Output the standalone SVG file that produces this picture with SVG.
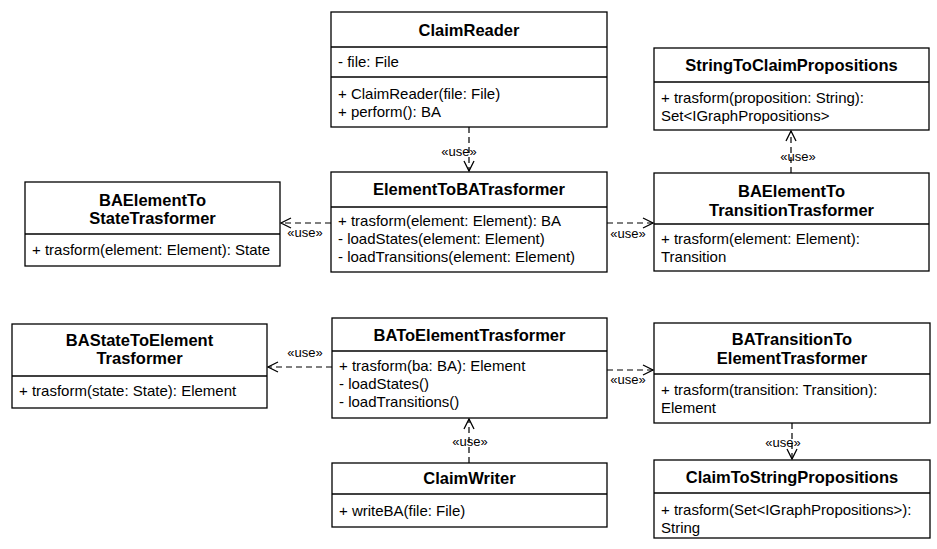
<svg xmlns="http://www.w3.org/2000/svg" width="937" height="549" viewBox="0 0 937 549">
<defs>
<style>
.box{fill:#fff;stroke:#000;stroke-width:1.3}
.div{stroke:#000;stroke-width:1.3}
.t{font-family:"Liberation Sans",Arial,sans-serif;font-size:16.5px;font-weight:bold;text-anchor:middle;fill:#000}
.m{font-family:"Liberation Sans",Arial,sans-serif;font-size:15px;fill:#000}
.u{font-family:"Liberation Sans",Arial,sans-serif;font-size:13px;text-anchor:middle;fill:#000}
.c{stroke:#000;stroke-width:1.2;stroke-dasharray:6,4;fill:none}
</style>
<marker id="open" markerUnits="userSpaceOnUse" markerWidth="14" markerHeight="14" viewBox="0 0 14 14" refX="12" refY="7" orient="auto">
<path d="M2,2 L12,7 L2,12" fill="none" stroke="#000" stroke-width="1.3"/>
</marker>
</defs>
<rect width="937" height="549" fill="#fff"/>

<g id="connectors">
<line class="c" x1="469" y1="127" x2="469" y2="171" marker-end="url(#open)"/>
<text class="u" x="459" y="156">«use»</text>
<line class="c" x1="331" y1="223" x2="281" y2="223" marker-end="url(#open)"/>
<text class="u" x="305" y="237">«use»</text>
<line class="c" x1="607" y1="223" x2="653" y2="223" marker-end="url(#open)"/>
<text class="u" x="628" y="238">«use»</text>
<line class="c" x1="791" y1="173" x2="791" y2="131" marker-end="url(#open)"/>
<text class="u" x="798" y="161">«use»</text>
<line class="c" x1="332" y1="367" x2="268" y2="367" marker-end="url(#open)"/>
<text class="u" x="305" y="357">«use»</text>
<line class="c" x1="607" y1="370" x2="653" y2="370" marker-end="url(#open)"/>
<text class="u" x="628" y="384">«use»</text>
<line class="c" x1="469" y1="463" x2="469" y2="419" marker-end="url(#open)"/>
<text class="u" x="470" y="446">«use»</text>
<line class="c" x1="792" y1="423" x2="792" y2="459" marker-end="url(#open)"/>
<text class="u" x="783" y="447">«use»</text>
</g>

<g id="ClaimReader">
<rect class="box" x="331" y="12" width="276" height="115"/>
<line class="div" x1="331" y1="47" x2="607" y2="47"/>
<line class="div" x1="331" y1="77" x2="607" y2="77"/>
<text class="t" x="469" y="36">ClaimReader</text>
<text class="m" x="338" y="67">- file: File</text>
<text class="m" x="338" y="99">+ ClaimReader(file: File)</text>
<text class="m" x="338" y="117">+ perform(): BA</text>
</g>

<g id="ElementToBATrasformer">
<rect class="box" x="331" y="172" width="276" height="100"/>
<line class="div" x1="331" y1="207" x2="607" y2="207"/>
<text class="t" x="469" y="195">ElementToBATrasformer</text>
<text class="m" x="338" y="226">+ trasform(element: Element): BA</text>
<text class="m" x="338" y="244">- loadStates(element: Element)</text>
<text class="m" x="338" y="262">- loadTransitions(element: Element)</text>
</g>

<g id="BAElementToStateTrasformer">
<rect class="box" x="25" y="182" width="255" height="84"/>
<line class="div" x1="25" y1="234" x2="280" y2="234"/>
<text class="t" x="152.5" y="206">BAElementTo</text>
<text class="t" x="152.5" y="224">StateTrasformer</text>
<text class="m" x="32" y="255">+ trasform(element: Element): State</text>
</g>

<g id="StringToClaimPropositions">
<rect class="box" x="654" y="48" width="275" height="82"/>
<line class="div" x1="654" y1="82" x2="929" y2="82"/>
<text class="t" x="791.5" y="71">StringToClaimPropositions</text>
<text class="m" x="661" y="103">+ trasform(proposition: String):</text>
<text class="m" x="661" y="121">Set&lt;IGraphPropositions&gt;</text>
</g>

<g id="BAElementToTransitionTrasformer">
<rect class="box" x="654" y="173" width="275" height="98"/>
<line class="div" x1="654" y1="224" x2="929" y2="224"/>
<text class="t" x="791.5" y="197">BAElementTo</text>
<text class="t" x="791.5" y="216">TransitionTrasformer</text>
<text class="m" x="661" y="244">+ trasform(element: Element):</text>
<text class="m" x="661" y="262">Transition</text>
</g>

<g id="BAStateToElementTrasformer">
<rect class="box" x="12" y="324" width="255" height="84"/>
<line class="div" x1="12" y1="376" x2="267" y2="376"/>
<text class="t" x="139.5" y="346">BAStateToElement</text>
<text class="t" x="139.5" y="364">Trasformer</text>
<text class="m" x="19" y="396">+ trasform(state: State): Element</text>
</g>

<g id="BAToElementTrasformer">
<rect class="box" x="332" y="318" width="275" height="100"/>
<line class="div" x1="332" y1="351" x2="607" y2="351"/>
<text class="t" x="469.5" y="341">BAToElementTrasformer</text>
<text class="m" x="339" y="371">+ trasform(ba: BA): Element</text>
<text class="m" x="339" y="389">- loadStates()</text>
<text class="m" x="339" y="407">- loadTransitions()</text>
</g>

<g id="ClaimWriter">
<rect class="box" x="332" y="463" width="275" height="64"/>
<line class="div" x1="332" y1="494" x2="607" y2="494"/>
<text class="t" x="469.5" y="484">ClaimWriter</text>
<text class="m" x="339" y="516">+ writeBA(file: File)</text>
</g>

<g id="BATransitionToElementTrasformer">
<rect class="box" x="654" y="323" width="276" height="100"/>
<line class="div" x1="654" y1="374" x2="930" y2="374"/>
<text class="t" x="792" y="345">BATransitionTo</text>
<text class="t" x="792" y="364">ElementTrasformer</text>
<text class="m" x="661" y="395">+ trasform(transition: Transition):</text>
<text class="m" x="661" y="413">Element</text>
</g>

<g id="ClaimToStringPropositions">
<rect class="box" x="654" y="460" width="276" height="78"/>
<line class="div" x1="654" y1="493" x2="930" y2="493"/>
<text class="t" x="792" y="483">ClaimToStringPropositions</text>
<text class="m" x="661" y="515">+ trasform(Set&lt;IGraphPropositions&gt;):</text>
<text class="m" x="661" y="533">String</text>
</g>
</svg>
